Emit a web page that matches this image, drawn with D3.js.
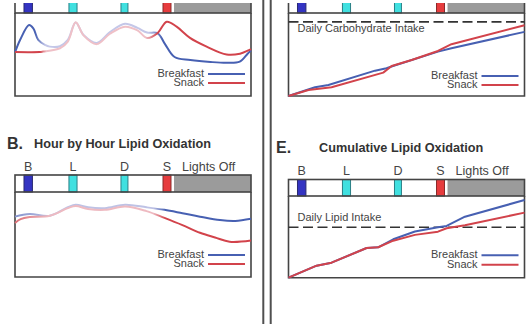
<!DOCTYPE html>
<html>
<head>
<meta charset="utf-8">
<script src="https://cdn.jsdelivr.net/npm/d3@7"></script>
<style>
  html, body { margin: 0; padding: 0; background: #fff; }
  svg { display: block; font-family: "Liberation Sans", Arial, sans-serif; }
</style>
</head>
<body>
<svg id="fig" width="531" height="324"></svg>
<script>
// ---- Schedule (hours from the start of the recording) ----
const mealLabels = ["B", "L", "D", "S"];
const mealStart = [0.8, 4.8, 9.43, 13.17];
const mealEnd = [1.55, 5.52, 10.05, 13.88];
const lightsOffStart = 14.15;
const dayEnd = 21;
const seriesNames = ["Breakfast", "Snack"];

// ---- Hour by hour carbohydrate oxidation (arbitrary units) ----
const carbRateHoursBreakfast = [0, 0.45, 1.25, 1.63, 2.07, 2.67, 3.1, 4.0, 4.7, 5.4, 6.1, 7.27, 8.45, 9.79, 10.9, 11.75, 12.7, 13.35, 14.2, 15.6, 17.4, 18.9, 20.0, 20.7, 21.0];
const carbRateBreakfast =      [5.25, 6.75, 8.55, 8.15, 6.75, 6.15, 5.95, 6.0, 6.75, 8.85, 7.35, 6.4, 7.7, 8.7, 8.2, 7.65, 7.55, 6.25, 4.7, 4.35, 4.1, 4.0, 4.15, 5.1, 5.5];
const carbRateHoursSnack = [0, 2.2, 2.5, 4.0, 4.7, 5.4, 6.1, 7.27, 8.45, 9.79, 10.9, 11.75, 12.7, 13.5, 14.38, 15.57, 17.05, 18.83, 20.02, 20.76, 21.0];
const carbRateSnack =      [5.3, 5.3, 5.35, 5.75, 6.55, 8.9, 7.3, 6.25, 7.5, 8.35, 7.9, 7.0, 7.6, 8.95, 8.35, 7.0, 5.95, 5.0, 5.1, 5.5, 5.65];

// ---- Hour by hour lipid oxidation (arbitrary units) ----
const lipidRateHoursBreakfast = [0, 1.3, 3.1, 4.7, 5.4, 6.5, 8.0, 9.8, 11.7, 13.3, 14.9, 16.46, 18.24, 19.6, 21.0];
const lipidRateBreakfast =      [7.1, 7.4, 7.2, 8.2, 8.5, 8.2, 8.1, 8.5, 8.2, 7.9, 7.5, 7.1, 6.7, 6.6, 6.85];
const lipidRateHoursSnack = [0, 0.5, 1.3, 3.1, 4.7, 5.4, 6.5, 8.0, 9.8, 11.7, 13.3, 14.9, 16.46, 17.8, 19.1, 21.0];
const lipidRateSnack =      [6.35, 6.8, 7.05, 7.2, 8.1, 8.35, 8.0, 7.9, 8.3, 7.75, 6.95, 6.1, 5.2, 4.65, 4.15, 4.3];

// ---- Cumulative carbohydrate oxidation (% of daily intake) ----
const carbCumHoursBreakfast = [0, 2.36, 3.55, 7.7, 8.72, 9.3, 13.3, 14.5, 21.0];
const carbCumBreakfast =      [0, 11.8, 14.9, 34.2, 37.4, 40.5, 59.9, 64.5, 86.5];
const carbCumHoursSnack = [0, 1.78, 3.83, 8.43, 9.18, 10.96, 13.3, 14.5, 21.0];
const carbCumSnack =      [0, 8.1, 11.8, 31.5, 40.5, 48.6, 60.8, 69.9, 95.5];
const carbIntake = 100;

// ---- Cumulative lipid oxidation (% of daily intake) ----
const lipidCumHoursBreakfast = [0, 2.5, 3.83, 6.95, 7.98, 9.32, 11.25, 13.3, 14.07, 15.7, 21.0];
const lipidCumBreakfast =      [0, 23.8, 29.8, 58.9, 60.3, 76.2, 91.5, 100, 102.6, 120.9, 154];
const lipidCumHoursSnack = [0, 2.5, 3.83, 6.95, 7.98, 9.32, 11.25, 13.3, 14.07, 15.7, 21.0];
const lipidCumSnack =      [0, 23.8, 29.8, 58.9, 60.3, 73.4, 84.9, 91.3, 98, 104.2, 129];
const lipidIntake = 100;

// ---- Styles ----
const BLUE = "#4760b2", RED = "#d2434b";
const BLUE_PALE = "#c4c7e8", RED_PALE = "#efc0c7";
const INK = "#444";
const mealFill = { B: "#3434c2", L: "#40e0e0", D: "#40e0e0", S: "#e63c3e" };
const mealStroke = { B: "#2a2a70", L: "#2b7f86", D: "#2b7f86", S: "#8a2a2a" };

const svg = d3.select("#fig");
const defs = svg.append("defs");
let defCount = 0;

function fadeGradient(x, pale, solid, stops) {
  const id = "fade" + (defCount++);
  const grad = defs.append("linearGradient")
    .attr("id", id)
    .attr("gradientUnits", "userSpaceOnUse")
    .attr("x1", x(0)).attr("x2", x(dayEnd))
    .attr("y1", 0).attr("y2", 0);
  stops.forEach(([h, t]) => {
    grad.append("stop")
      .attr("offset", h / dayEnd)
      .attr("stop-color", d3.interpolateRgb(pale, solid)(t));
  });
  return "url(#" + id + ")";
}

function panel(cfg) {
  const g = svg.append("g");
  if (cfg.clipTop != null) {
    const cid = "clip" + (defCount++);
    defs.append("clipPath").attr("id", cid)
      .append("rect")
      .attr("x", cfg.x0 - 5).attr("y", cfg.clipTop)
      .attr("width", cfg.x1 - cfg.x0 + 10).attr("height", cfg.bottom - cfg.clipTop + 5);
    g.attr("clip-path", "url(#" + cid + ")");
  }
  const x = d3.scaleLinear().domain([0, dayEnd]).range([cfg.x0, cfg.x1]);
  const y = d3.scaleLinear().domain(cfg.yDomain).range([cfg.bottom, cfg.stripBottom]);
  const stripH = cfg.stripBottom - cfg.stripTop;

  // schedule strip: meals and lights-off period
  g.append("rect")
    .attr("x", cfg.x0).attr("y", cfg.stripTop)
    .attr("width", cfg.x1 - cfg.x0).attr("height", stripH)
    .attr("fill", "#fff");
  g.append("rect")
    .attr("x", x(lightsOffStart)).attr("y", cfg.stripTop)
    .attr("width", x(dayEnd) - x(lightsOffStart)).attr("height", stripH)
    .attr("fill", "#9b9b9b");
  g.selectAll("rect.meal")
    .data(mealLabels)
    .join("rect")
    .attr("class", "meal")
    .attr("x", (d, i) => x(mealStart[i]))
    .attr("y", cfg.stripTop)
    .attr("width", (d, i) => x(mealEnd[i]) - x(mealStart[i]))
    .attr("height", stripH)
    .attr("fill", d => mealFill[d])
    .attr("stroke", d => mealStroke[d])
    .attr("stroke-width", 1);
  g.append("rect")
    .attr("x", cfg.x0).attr("y", cfg.stripTop)
    .attr("width", cfg.x1 - cfg.x0).attr("height", stripH)
    .attr("fill", "none").attr("stroke", INK).attr("stroke-width", 1.6);

  // plot frame (left, bottom, right)
  g.append("path")
    .attr("d", `M${cfg.x0},${cfg.stripBottom}V${cfg.bottom}H${cfg.x1}V${cfg.stripBottom}`)
    .attr("fill", "none").attr("stroke", INK).attr("stroke-width", 1.6);

  // daily intake reference
  if (cfg.intake != null) {
    g.append("line")
      .attr("x1", cfg.x0).attr("x2", cfg.x1)
      .attr("y1", y(cfg.intake)).attr("y2", y(cfg.intake))
      .attr("stroke", "#333").attr("stroke-width", 1.6)
      .attr("stroke-dasharray", "10,4.5");
    g.append("text")
      .attr("x", cfg.x0 + 9)
      .attr("y", y(cfg.intake) + cfg.intakeLabelDy)
      .attr("font-size", 11).attr("fill", INK)
      .text(cfg.intakeLabel);
  }

  // series
  const line = d3.line()
    .x(d => x(d[0])).y(d => y(d[1]))
    .curve(cfg.smooth ? d3.curveCatmullRom.alpha(0.5) : d3.curveLinear);
  cfg.series.forEach(s => {
    const pts = s.hours.map((h, i) => [h, s.values[i]]);
    const stroke = s.fade ? fadeGradient(x, s.pale, s.color, s.fade) : s.color;
    g.append("path")
      .datum(pts)
      .attr("d", line)
      .attr("fill", "none")
      .attr("stroke", stroke)
      .attr("stroke-width", 2)
      .attr("stroke-linejoin", "round");
  });

  // legend
  seriesNames.forEach((name, i) => {
    const by = cfg.bottom + cfg.legendDy[i];
    g.append("text")
      .attr("x", cfg.x1 - 47).attr("y", by)
      .attr("text-anchor", "end")
      .attr("font-size", 11).attr("fill", INK)
      .text(name);
    g.append("line")
      .attr("x1", cfg.x1 - 43).attr("x2", cfg.x1 - 6)
      .attr("y1", by - 3).attr("y2", by - 3)
      .attr("stroke", cfg.series[i].color).attr("stroke-width", 2);
  });

  // meal labels above the strip
  if (cfg.showLabels) {
    svg.append("g").selectAll("text")
      .data(mealLabels)
      .join("text")
      .attr("x", (d, i) => x((mealStart[i] + mealEnd[i]) / 2))
      .attr("y", cfg.stripTop - 4.5)
      .attr("text-anchor", "middle")
      .attr("font-size", 12.5).attr("fill", INK)
      .text(d => d);
    svg.append("text")
      .attr("x", x(lightsOffStart) + 8).attr("y", cfg.stripTop - 4.5)
      .attr("font-size", 12.5).attr("fill", INK)
      .text("Lights Off");
  }
  // panel letter and title
  if (cfg.letter) {
    svg.append("text")
      .attr("x", cfg.letterX).attr("y", cfg.titleY + 1)
      .attr("font-size", 16).attr("font-weight", "bold").attr("fill", "#333")
      .text(cfg.letter);
    svg.append("text")
      .attr("x", cfg.titleX).attr("y", cfg.titleY)
      .attr("font-size", 12.7).attr("font-weight", "bold").attr("fill", "#333")
      .text(cfg.title);
  }
}

// colour fade along the time axis: 1 = full colour, 0 = pale
const blueFadeA = [[0, 1], [1.8, 1], [2.7, 0], [11.9, 0], [13.1, 1], [21, 1]];
const redFadeA = [[0, 1], [2.2, 1], [2.8, 0], [11.6, 0], [12.7, 1], [21, 1]];
const blueFadeB = [[0, 0.5], [3.5, 0.05], [12.3, 0.05], [13.4, 1], [21, 1]];
const redFadeB = [[0, 0.65], [3, 0.05], [12.3, 0.05], [13.4, 1], [21, 1]];

// carbohydrate oxidation, hour by hour
panel({
  x0: 15, x1: 251, stripTop: -4, stripBottom: 13, bottom: 96, clipTop: 3,
  yDomain: [0, 10], smooth: true,
  legendDy: [-19, -10],
  series: [
    { hours: carbRateHoursBreakfast, values: carbRateBreakfast, color: BLUE, pale: BLUE_PALE, fade: blueFadeA },
    { hours: carbRateHoursSnack, values: carbRateSnack, color: RED, pale: RED_PALE, fade: redFadeA }
  ]
});

// lipid oxidation, hour by hour
panel({
  x0: 15, x1: 251, stripTop: 175, stripBottom: 192, bottom: 277,
  yDomain: [0, 10], smooth: true, showLabels: true,
  letter: "B.", letterX: 7, title: "Hour by Hour Lipid Oxidation", titleX: 34, titleY: 148,
  legendDy: [-19, -10],
  series: [
    { hours: lipidRateHoursBreakfast, values: lipidRateBreakfast, color: BLUE, pale: BLUE_PALE, fade: blueFadeB },
    { hours: lipidRateHoursSnack, values: lipidRateSnack, color: RED, pale: RED_PALE, fade: redFadeB }
  ]
});

// cumulative carbohydrate oxidation
panel({
  x0: 288.5, x1: 524.5, stripTop: -4, stripBottom: 13, bottom: 96, clipTop: 3,
  yDomain: [0, 112], smooth: false,
  intake: carbIntake, intakeLabel: "Daily Carbohydrate Intake", intakeLabelDy: 10.5,
  legendDy: [-17, -8],
  series: [
    { hours: carbCumHoursBreakfast, values: carbCumBreakfast, color: BLUE },
    { hours: carbCumHoursSnack, values: carbCumSnack, color: RED }
  ]
});

// cumulative lipid oxidation
panel({
  x0: 288.5, x1: 524.5, stripTop: 179.5, stripBottom: 196, bottom: 277.7,
  yDomain: [0, 162], smooth: false, showLabels: true,
  letter: "E.", letterX: 276, title: "Cumulative Lipid Oxidation", titleX: 319, titleY: 152,
  intake: lipidIntake, intakeLabel: "Daily Lipid Intake", intakeLabelDy: -6.5,
  legendDy: [-19.4, -10],
  series: [
    { hours: lipidCumHoursBreakfast, values: lipidCumBreakfast, color: BLUE },
    { hours: lipidCumHoursSnack, values: lipidCumSnack, color: RED }
  ]
});

// column dividers
[263.3, 270.7].forEach(xd => {
  svg.append("line")
    .attr("x1", xd).attr("x2", xd).attr("y1", 0).attr("y2", 324)
    .attr("stroke", "#505050").attr("stroke-width", 2);
});
</script>
</body>
</html>
